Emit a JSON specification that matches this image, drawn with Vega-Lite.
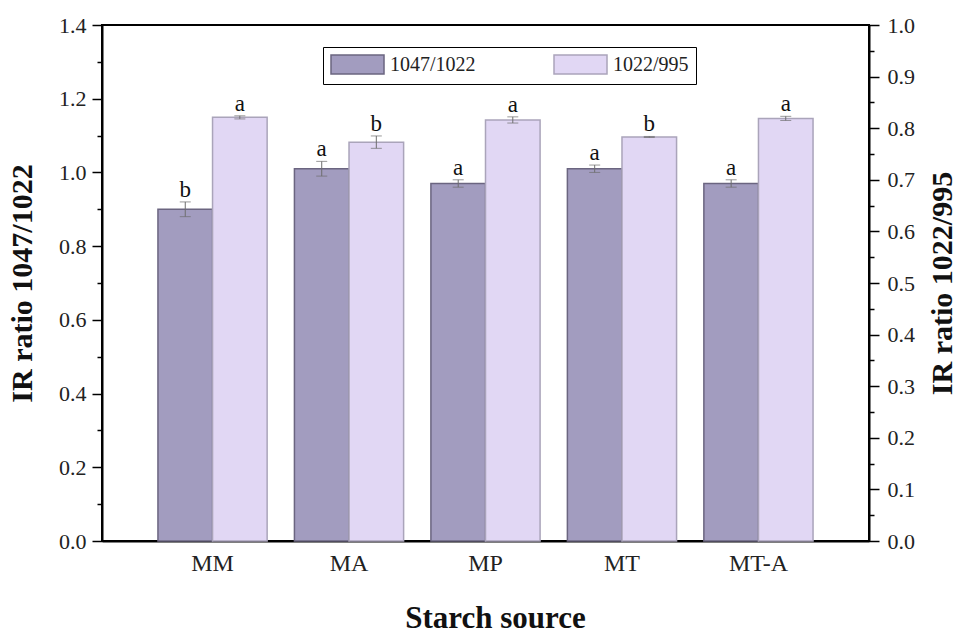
{
  "$schema": "https://vega.github.io/schema/vega-lite/v6.json",
  "width": 767,
  "height": 516,
  "autosize": {"type": "none"},
  "padding": {"left": 102, "top": 25, "right": 88, "bottom": 93},
  "config": {
    "font": "Liberation Serif",
    "view": {"stroke": "black", "strokeWidth": 2},
    "axis": {"domainColor": "black", "domainWidth": 2, "tickColor": "black", "tickWidth": 1.5, "labelColor": "#222", "titleColor": "#111", "labelFont": "Liberation Serif", "titleFont": "Liberation Serif", "grid": false}
  },
  "data": {
    "values": [
      {"cat": "MM", "series": "1047/1022", "value": 0.90, "lo": 0.88, "hi": 0.92, "letter": "b"},
      {"cat": "MA", "series": "1047/1022", "value": 1.01, "lo": 0.99, "hi": 1.03, "letter": "a"},
      {"cat": "MP", "series": "1047/1022", "value": 0.97, "lo": 0.96, "hi": 0.98, "letter": "a"},
      {"cat": "MT", "series": "1047/1022", "value": 1.01, "lo": 1.00, "hi": 1.02, "letter": "a"},
      {"cat": "MT-A", "series": "1047/1022", "value": 0.97, "lo": 0.96, "hi": 0.98, "letter": "a"},
      {"cat": "MM", "series": "1022/995", "value": 0.821, "lo": 0.818, "hi": 0.824, "letter": "a"},
      {"cat": "MA", "series": "1022/995", "value": 0.773, "lo": 0.761, "hi": 0.785, "letter": "b"},
      {"cat": "MP", "series": "1022/995", "value": 0.816, "lo": 0.810, "hi": 0.822, "letter": "a"},
      {"cat": "MT", "series": "1022/995", "value": 0.783, "lo": 0.782, "hi": 0.784, "letter": "b"},
      {"cat": "MT-A", "series": "1022/995", "value": 0.819, "lo": 0.815, "hi": 0.823, "letter": "a"}
    ]
  },
  "encoding": {
    "x": {
      "field": "cat", "type": "nominal", "sort": ["MM", "MA", "MP", "MT", "MT-A"],
      "scale": {"paddingInner": 0.2, "paddingOuter": 0.41},
      "axis": {"title": "Starch source", "labelAngle": 0, "ticks": false, "labelFontSize": 24, "labelPadding": 10,
               "titleFontSize": 31, "titleFontWeight": "bold", "titleX": 393, "titleY": 86, "titleAlign": "center", "titleBaseline": "alphabetic"}
    },
    "xOffset": {"field": "series", "type": "nominal", "sort": ["1047/1022", "1022/995"],
                "scale": {"domain": ["1047/1022", "1022/995"], "paddingInner": 0, "paddingOuter": 0}}
  },
  "layer": [
    {
      "transform": [{"filter": "datum.series === '1047/1022'"}],
      "encoding": {
        "y": {
          "field": "value", "type": "quantitative",
          "scale": {"domain": [0, 1.4], "nice": false, "zero": true},
          "axis": {
            "orient": "left", "title": "IR ratio 1047/1022",
            "values": [0, 0.1, 0.2, 0.3, 0.4, 0.5, 0.6, 0.7, 0.8, 0.9, 1.0, 1.1, 1.2, 1.3, 1.4],
            "labelExpr": "round(datum.value*10) % 2 === 0 ? format(datum.value, '.1f') : ''",
            "tickSize": {"condition": {"test": "round(datum.value*10) % 2 === 1", "value": 5}, "value": 10},
            "labelOverlap": false, "labelFontSize": 22, "labelPadding": 6,
            "titleFontSize": 30, "titleFontWeight": "bold", "titleX": -80, "titleY": 258, "titleAngle": 270,
            "titleAlign": "center", "titleBaseline": "middle"
          }
        }
      },
      "layer": [
        {
          "mark": {"type": "bar", "strokeWidth": 1.5},
          "encoding": {
            "fill": {"field": "series", "type": "nominal", "scale": {"domain": ["1047/1022", "1022/995"], "range": ["#a29cbf", "#e1d7f4"]},
                     "legend": {"orient": "none", "legendX": 221, "legendY": 22, "direction": "horizontal", "title": null,
                                "strokeColor": "black", "padding": 7, "symbolType": "M-1,-1L4.58,-1L4.58,1L-1,1Z",
                                "symbolSize": 361, "symbolStrokeWidth": 1.5, "labelFontSize": 20, "labelOffset": 39, "columnPadding": 75,
                                "labelFont": "Liberation Serif", "labelColor": "#222"}},
            "stroke": {"field": "series", "type": "nominal", "scale": {"domain": ["1047/1022", "1022/995"], "range": ["#6b6580", "#aaa4ba"]}}
          }
        },
        {"mark": {"type": "rule", "color": "#6e6e6e", "strokeWidth": 1}, "encoding": {"y": {"field": "lo", "type": "quantitative"}, "y2": {"field": "hi"}}},
        {"mark": {"type": "tick", "color": "#6e6e6e", "size": 11, "thickness": 1, "orient": "horizontal"}, "encoding": {"y": {"field": "hi", "type": "quantitative"}}},
        {"mark": {"type": "tick", "color": "#6e6e6e", "size": 11, "thickness": 1, "orient": "horizontal"}, "encoding": {"y": {"field": "lo", "type": "quantitative"}}},
        {"mark": {"type": "text", "baseline": "alphabetic", "dy": -5, "fontSize": 23, "color": "#111", "font": "Liberation Serif"},
         "encoding": {"y": {"field": "hi", "type": "quantitative"}, "text": {"field": "letter"}}}
      ]
    },
    {
      "transform": [{"filter": "datum.series === '1022/995'"}],
      "encoding": {
        "y": {
          "field": "value", "type": "quantitative",
          "scale": {"domain": [0, 1.0], "nice": false, "zero": true},
          "axis": {
            "orient": "right", "title": "IR ratio 1022/995",
            "values": [0, 0.05, 0.1, 0.15, 0.2, 0.25, 0.3, 0.35, 0.4, 0.45, 0.5, 0.55, 0.6, 0.65, 0.7, 0.75, 0.8, 0.85, 0.9, 0.95, 1.0],
            "labelExpr": "round(datum.value*20) % 2 === 0 ? format(datum.value, '.1f') : ''",
            "tickSize": {"condition": {"test": "round(datum.value*20) % 2 === 1", "value": 5}, "value": 10},
            "labelOverlap": false, "labelFontSize": 22, "labelPadding": 8,
            "titleFontSize": 30, "titleFontWeight": "bold", "titleX": 73, "titleY": 258, "titleAngle": 270,
            "titleAlign": "center", "titleBaseline": "middle"
          }
        }
      },
      "layer": [
        {
          "mark": {"type": "bar", "strokeWidth": 1.5},
          "encoding": {
            "fill": {"field": "series", "type": "nominal", "scale": {"domain": ["1047/1022", "1022/995"], "range": ["#a29cbf", "#e1d7f4"]}},
            "stroke": {"field": "series", "type": "nominal", "scale": {"domain": ["1047/1022", "1022/995"], "range": ["#6b6580", "#aaa4ba"]}}
          }
        },
        {"mark": {"type": "rule", "color": "#6e6e6e", "strokeWidth": 1}, "encoding": {"y": {"field": "lo", "type": "quantitative"}, "y2": {"field": "hi"}}},
        {"mark": {"type": "tick", "color": "#6e6e6e", "size": 11, "thickness": 1, "orient": "horizontal"}, "encoding": {"y": {"field": "hi", "type": "quantitative"}}},
        {"mark": {"type": "tick", "color": "#6e6e6e", "size": 11, "thickness": 1, "orient": "horizontal"}, "encoding": {"y": {"field": "lo", "type": "quantitative"}}},
        {"mark": {"type": "text", "baseline": "alphabetic", "dy": -5, "fontSize": 23, "color": "#111", "font": "Liberation Serif"},
         "encoding": {"y": {"field": "hi", "type": "quantitative"}, "text": {"field": "letter"}}}
      ]
    }
  ],
  "resolve": {"scale": {"y": "independent"}}
}
